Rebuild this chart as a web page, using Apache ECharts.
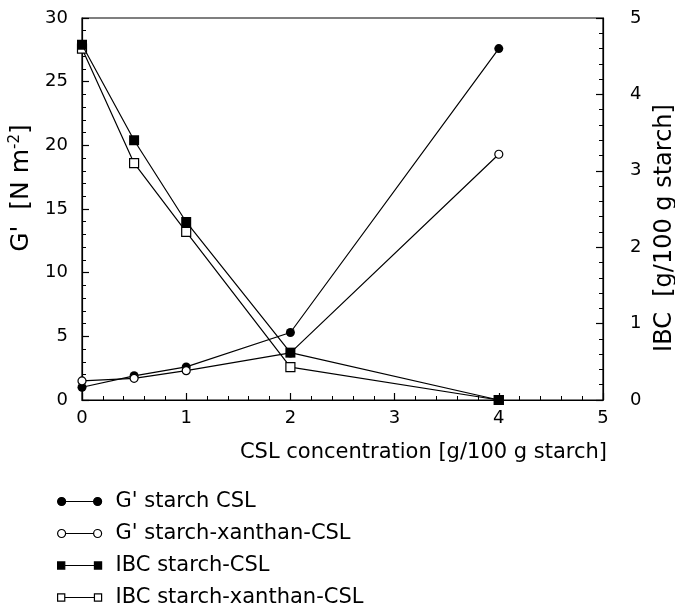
<!DOCTYPE html>
<html>
<head>
<meta charset="utf-8">
<script src="https://cdn.jsdelivr.net/npm/echarts@6/dist/echarts.min.js"></script>
<style>
html,body{margin:0;padding:0;background:#fff;}
#c{width:675px;height:615px;}
</style>
</head>
<body>
<div id="c"></div>
<script>
var xValues = [0, 0.5, 1, 2, 4];
var gStarchCSL = [1.0, 1.9, 2.6, 5.3, 27.6];
var gStarchXanthanCSL = [1.5, 1.7, 2.3, 3.7, 19.3];
var ibcStarchCSL = [4.65, 3.40, 2.33, 0.62, 0];
var ibcStarchXanthanCSL = [4.6, 3.10, 2.20, 0.43, 0];
var seriesNames = ["G' starch CSL", "G' starch-xanthan-CSL", "IBC starch-CSL", "IBC starch-xanthan-CSL"];

function pairs(ys){ return xValues.map(function(x,i){ return [x, ys[i]]; }); }

var FONT = 'DejaVu Sans';
var circleIcon = 'path://M0,4A4,4,0,1,0,8,4A4,4,0,1,0,0,4ZM8,4L36,4M36,4A4,4,0,1,0,44,4A4,4,0,1,0,36,4Z';
var squareIcon = 'path://M0.5,0.5L7.5,0.5L7.5,7.5L0.5,7.5ZM7.5,4L36.5,4M36.5,0.5L43.5,0.5L43.5,7.5L36.5,7.5Z';

var axisCommon = {
  axisLine: {show: true, lineStyle: {color: '#000', width: 1.2}},
  axisTick: {show: true, inside: true, length: 7, lineStyle: {color: '#000', width: 1.2}},
  minorTick: {show: true, splitNumber: 5, length: 4, lineStyle: {color: '#000', width: 1}},
  splitLine: {show: false},
  minorSplitLine: {show: false},
  axisLabel: {color: '#000', fontFamily: FONT, fontSize: 18}
};

function ax(o){ return Object.assign({}, JSON.parse(JSON.stringify(axisCommon)), o); }

var chart = echarts.init(document.getElementById('c'), null, {renderer: 'canvas'});
chart.setOption({
  animation: false,
  backgroundColor: '#fff',
  grid: {left: 82, right: 72, top: 18, bottom: 215, show: true, borderColor: '#000', borderWidth: 1.2,
         containLabel: false, outerBoundsMode: 'none'},
  xAxis: ax({
    type: 'value', min: 0, max: 5, interval: 1,
    axisLabel: {color: '#000', fontFamily: FONT, fontSize: 18, margin: 9},
    name: 'CSL concentration [g/100 g starch]',
    nameLocation: 'middle', nameGap: 42,
    nameTextStyle: {color: '#000', fontFamily: FONT, fontSize: 21, padding: [0, 0, 0, 162]}
  }),
  yAxis: [
    ax({
      type: 'value', min: 0, max: 30, interval: 5,
      axisLabel: {color: '#000', fontFamily: FONT, fontSize: 18, margin: 14},
      name: "{a|G'  [N m}{s|-2}{a|]}",
      nameLocation: 'middle', nameGap: 44, nameRotate: 90,
      nameTextStyle: {color: '#000', padding: [0, 0, 0, 42],
        rich: {a: {fontFamily: FONT, fontSize: 25, lineHeight: 29, color: '#000'},
               s: {fontFamily: FONT, fontSize: 15, lineHeight: 16, verticalAlign: 'top', color: '#000'}}}
    }),
    ax({
      type: 'value', min: 0, max: 5, interval: 1, position: 'right',
      axisLabel: {color: '#000', fontFamily: FONT, fontSize: 18, margin: 27},
      name: 'IBC  [g/100 g starch]',
      nameLocation: 'middle', nameGap: 45, nameRotate: 90,
      nameTextStyle: {color: '#000', fontFamily: FONT, fontSize: 24, padding: [0, 38, 0, 0]}
    })
  ],
  legend: {
    orient: 'vertical', left: 57, top: 490, itemGap: 9, padding: 0,
    itemWidth: 44, itemHeight: 8, selectedMode: false,
    textStyle: {color: '#000', fontFamily: FONT, fontSize: 21, lineHeight: 23, padding: [0, 0, 0, 9]},
    data: [
      {name: seriesNames[0], icon: circleIcon, itemStyle: {color: '#000', borderColor: '#000', borderWidth: 1.2}},
      {name: seriesNames[1], icon: circleIcon, itemStyle: {color: '#fff', borderColor: '#000', borderWidth: 1.2}},
      {name: seriesNames[2], icon: squareIcon, itemStyle: {color: '#000', borderColor: '#000', borderWidth: 1.2}},
      {name: seriesNames[3], icon: squareIcon, itemStyle: {color: '#fff', borderColor: '#000', borderWidth: 1.2}}
    ]
  },
  series: [
    {name: seriesNames[0], type: 'line', yAxisIndex: 0, data: pairs(gStarchCSL),
     symbol: 'circle', symbolSize: 9, z: 3,
     lineStyle: {color: '#000', width: 1.2}, itemStyle: {color: '#000', borderColor: '#000', borderWidth: 0}},
    {name: seriesNames[1], type: 'line', yAxisIndex: 0, data: pairs(gStarchXanthanCSL),
     symbol: 'circle', symbolSize: 8, z: 4,
     lineStyle: {color: '#000', width: 1.2}, itemStyle: {color: '#fff', borderColor: '#000', borderWidth: 1.2}},
    {name: seriesNames[3], type: 'line', yAxisIndex: 1, data: pairs(ibcStarchXanthanCSL),
     symbol: 'rect', symbolSize: 9, z: 5,
     lineStyle: {color: '#000', width: 1.2}, itemStyle: {color: '#fff', borderColor: '#000', borderWidth: 1.2}},
    {name: seriesNames[2], type: 'line', yAxisIndex: 1, data: pairs(ibcStarchCSL),
     symbol: 'rect', symbolSize: 10, z: 6,
     lineStyle: {color: '#000', width: 1.2}, itemStyle: {color: '#000', borderColor: '#000', borderWidth: 0}}
  ]
});
</script>
</body>
</html>
